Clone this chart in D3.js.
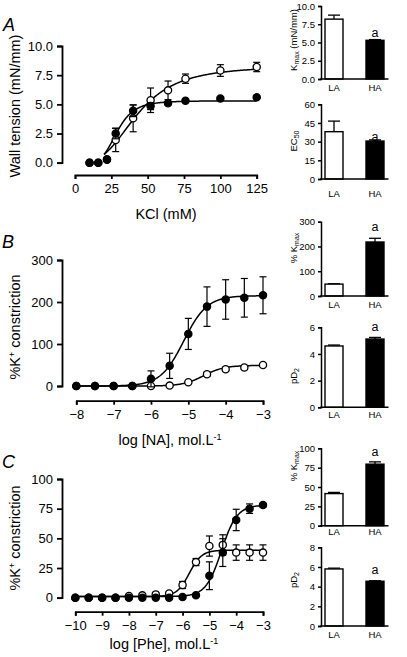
<!DOCTYPE html>
<html><head><meta charset="utf-8">
<script src="https://cdn.jsdelivr.net/npm/d3@7"></script>
<style>
body{margin:0;background:#fff}
svg{display:block}
text{font-family:"Liberation Sans",Arial,Helvetica,sans-serif;fill:#000}
</style>
</head><body>
<svg id="c" width="407" height="657"></svg>
<script>
// ---------- DATA ----------
// Panel A: KCl concentration-response (wall tension, mN/mm)
const kclConc   = [10, 16, 22, 28, 40, 52, 64, 76, 100, 125];
const kclLA     = [0, 0, 0.3, 1.95, 3.8, 5.35, 6.2, 7.2, 7.9, 8.2];
const kclLAerr  = [0.05, 0.05, 0.1, 1.0, 1.15, 1.05, 0.8, 0.4, 0.5, 0.4];
const kclHA     = [0, 0, 0.25, 2.5, 4.45, 4.85, 5.1, 5.3, 5.5, 5.6];
const kclHAerr  = [0.05, 0.05, 0.1, 0.45, 0.5, 0.3, 0.15, 0.1, 0.1, 0.1];
// fitted curve parameters [bottom, top, EC50, hill]
const kclFitLA  = [0, 8.3, 43, 3.1];
const kclFitHA  = [0, 5.3, 29, 5];
const kclTicksX = [0, 25, 50, 75, 100, 125];
const kclTicksY = [0, 2.5, 5, 7.5, 10];

// Panel B: noradrenaline (% K+ constriction)
const naLog     = [-8, -7.5, -7, -6.5, -6, -5.5, -5, -4.5, -4, -3.5, -3];
const naLA      = [0, 0, 0, 0, 0, 1, 9, 28, 40, 44, 50];
const naLAerr   = [1, 1, 1, 1, 1, 1, 2, 5, 5, 5, 3];
const naHA      = [0, 0, 0, 0, 17, 48, 124, 189, 206, 210, 216];
const naHAerr   = [1, 1, 1, 1, 19, 30, 37, 47, 47, 46, 44];
// [bottom, top, logEC50, hill]
const naFitLA   = [0, 49, -4.59, 1.58];
const naFitHA   = [0, 215, -5.12, 1.4];
const naTicksX  = [-8, -7, -6, -5, -4, -3];
const naTicksY  = [0, 100, 200, 300];

// Panel C: phenylephrine (% K+ constriction)
const pheLog    = [-10, -9.5, -9, -8.5, -8, -7.5, -7, -6.5, -6, -5.5, -5, -4.5, -4, -3.5, -3];
const pheLA     = [0, 0, 0, 0, 1.5, 2, 2.8, 3.6, 10.7, 30, 43.5, 44.5, 38, 38, 38];
const pheLAerr  = [0.5, 0.5, 0.5, 0.5, 0.5, 0.5, 0.5, 1.5, 3, 3, 8.5, 8.5, 6.5, 6.5, 6.5];
const pheHA     = [0, 0, 0, 0, 0, 0, 0, 0, 0.5, 2, 18.5, 38, 65.5, 75, 78];
const pheHAerr  = [0.5, 0.5, 0.5, 0.5, 0.5, 0.5, 0.5, 0.5, 0.5, 0.5, 11.7, 11.7, 9, 4, 1.5];
const pheFitLA  = [1, 40, -5.75, 1.87];
const pheFitHA  = [1, 78, -4.55, 1.5];
const pheTicksX = [-10, -9, -8, -7, -6, -5, -4, -3];
const pheTicksY = [0, 25, 50, 75, 100];

// Bar summaries (LA, HA)
const groups      = ["LA", "HA"];
const aKmax       = [8.2, 5.3];   const aKmaxErr  = [0.55, 0.1];
const aEC50       = [38, 30.5];   const aEC50Err  = [8.5, 0.9];
const bKmax       = [48, 218];    const bKmaxErr  = [1.5, 15];
const bPD2        = [4.6, 5.12];  const bPD2Err   = [0.07, 0.12];
const cKmax       = [41.5, 79.5]; const cKmaxErr  = [1.5, 3];
const cPD2        = [5.8, 4.55];  const cPD2Err   = [0.08, 0.05];
const aKmaxTicks  = [0, 2.5, 5, 7.5, 10];
const aEC50Ticks  = [0, 15, 30, 45, 60];
const bKmaxTicks  = [0, 100, 200, 300];
const bPD2Ticks   = [0, 2, 4, 6];
const cKmaxTicks  = [0, 25, 50, 75, 100];
const cPD2Ticks   = [0, 2, 4, 6, 8];

// ---------- DRAWING ----------
const svg = d3.select("#c");

function hillLin(p, x){ return p[0] + (p[1]-p[0]) / (1 + Math.pow(p[2]/x, p[3])); }
function hillLog(p, x){ return p[0] + (p[1]-p[0]) / (1 + Math.pow(10, (p[2]-x)*p[3])); }

function styleAxis(g, sw, fs){
  g.select(".domain").attr("stroke","#000").attr("stroke-width",sw);
  g.selectAll(".tick line").attr("stroke","#000").attr("stroke-width",sw);
  g.selectAll(".tick text").attr("font-size",fs).attr("fill","#000")
    .attr("font-family",'"Liberation Sans",Arial,sans-serif');
}

function mainPanel(o){
  const g = svg.append("g");
  const x = d3.scaleLinear().domain(o.xDomain).range(o.xRange);
  const y = d3.scaleLinear().domain(o.yDomain).range(o.yRange);
  const ya = g.append("g").attr("transform",`translate(${o.yAxisX},0)`)
    .call(d3.axisLeft(y).tickValues(o.yTicks).tickFormat(o.yFmt).tickSizeOuter(0).tickSize(5).tickPadding(4));
  styleAxis(ya, 1.8, 13);
  const xa = g.append("g").attr("transform",`translate(0,${o.xAxisY})`)
    .call(d3.axisBottom(x).tickValues(o.xTicks).tickFormat(d3.format("d")).tickSizeOuter(0).tickSize(4).tickPadding(5));
  styleAxis(xa, 1.8, 13);
  o.fits.forEach(f => {
    const xs = d3.range(o.curveDomain[0], o.curveDomain[1] + 1e-9, (o.curveDomain[1]-o.curveDomain[0])/200);
    g.append("path")
      .attr("d", d3.line().x(d => x(d)).y(d => y(f.fn(f.p, d)))(xs))
      .attr("fill","none").attr("stroke","#000").attr("stroke-width",1.5);
  });
  o.series.forEach(s => {
    const pts = s.x.map((xv,i) => ({x:xv, y:s.y[i], e:s.e[i]}));
    const eb = g.append("g").attr("stroke","#000").attr("stroke-width",1.2);
    pts.forEach(p => {
      if (p.e < 1e-9) return;
      const cx = x(p.x), y1 = y(p.y + p.e), y0 = y(p.y - p.e);
      eb.append("line").attr("x1",cx).attr("x2",cx).attr("y1",y1).attr("y2",y0);
      eb.append("line").attr("x1",cx-3.5).attr("x2",cx+3.5).attr("y1",y1).attr("y2",y1);
      eb.append("line").attr("x1",cx-3.5).attr("x2",cx+3.5).attr("y1",y0).attr("y2",y0);
    });
    g.append("g").selectAll("circle").data(pts).join("circle")
      .attr("cx", d => x(d.x)).attr("cy", d => y(d.y)).attr("r", 3.6)
      .attr("fill", s.filled ? "#000" : "#fff").attr("stroke","#000").attr("stroke-width",1.3);
  });
  const yl = g.append("text").attr("transform",`translate(${o.yLabelX},${o.yLabelY}) rotate(-90)`)
    .attr("text-anchor","middle").attr("font-size",14.5);
  o.yLabel(yl);
  const xl = g.append("text").attr("x",o.xLabelX).attr("y",o.xLabelY)
    .attr("text-anchor","middle").attr("font-size",14.5);
  o.xLabel(xl);
  g.append("text").attr("x",o.letterPos[0]).attr("y",o.letterPos[1])
    .attr("font-size",18).attr("font-style","italic").text(o.letter);
}

function barPanel(o){
  const g = svg.append("g");
  const x = d3.scaleBand().domain(groups).range([325,384]).paddingInner(0.561).paddingOuter(0);
  const y = d3.scaleLinear().domain(o.yDomain).range(o.yRange);
  const ya = g.append("g").attr("transform",`translate(321,0)`)
    .call(d3.axisLeft(y).tickValues(o.ticks).tickFormat(o.fmt).tickSizeOuter(0).tickSize(3).tickPadding(3));
  styleAxis(ya, 1.5, 9.5);
  groups.forEach((grp,i) => {
    const cx = x(grp) + x.bandwidth()/2;
    const top = y(o.vals[i] + o.errs[i]);
    g.append("line").attr("x1",cx).attr("x2",cx).attr("y1",y(o.vals[i])).attr("y2",top)
      .attr("stroke","#000").attr("stroke-width",1.3);
    g.append("line").attr("x1",cx-6).attr("x2",cx+6).attr("y1",top).attr("y2",top)
      .attr("stroke","#000").attr("stroke-width",1.3);
    g.append("rect").attr("x",x(grp)).attr("y",y(o.vals[i]))
      .attr("width",x.bandwidth()).attr("height",y(o.yDomain[0]) - y(o.vals[i]))
      .attr("fill", i===0 ? "#fff" : "#000").attr("stroke","#000").attr("stroke-width",1.4);
    g.append("text").attr("x",cx).attr("y",o.labelY).attr("text-anchor","middle")
      .attr("font-size",9.5).text(grp);
  });
  g.append("line").attr("x1",320.2).attr("x2",388.5).attr("y1",y(o.yDomain[0])).attr("y2",y(o.yDomain[0]))
    .attr("stroke","#000").attr("stroke-width",1.5);
  g.append("text").attr("x", x("HA") + x.bandwidth()/2).attr("y", o.sigY)
    .attr("text-anchor","middle").attr("font-size",12.5).text("a");
  const yl = g.append("text").attr("transform",`translate(296.5,${o.yLabelY}) rotate(-90)`)
    .attr("text-anchor","middle").attr("font-size",9.5);
  o.yLabel(yl);
}

function sup(t, base, s){ t.append("tspan").text(base[0]); t.append("tspan").attr("dy",-5).attr("font-size",9).text(s); if(base[1]) t.append("tspan").attr("dy",5).text(base[1]); }
function sub(t, base, s, rest){ t.append("tspan").text(base); t.append("tspan").attr("dy",2.5).attr("font-size",7).text(s); if(rest) t.append("tspan").attr("dy",-2.5).text(rest); }

mainPanel({
  xDomain:[0,125], xRange:[75,256.7], yDomain:[0,10], yRange:[162.7,46],
  xAxisY:175, yAxisX:62, xTicks:kclTicksX, yTicks:kclTicksY, yFmt:d3.format(".1f"),
  curveDomain:[20,125],
  fits:[{fn:hillLin,p:kclFitLA},{fn:hillLin,p:kclFitHA}],
  series:[{x:kclConc,y:kclLA,e:kclLAerr,filled:false},{x:kclConc,y:kclHA,e:kclHAerr,filled:true}],
  yLabelX:20, yLabelY:106, yLabel:t=>t.text("Wall tension (mN/mm)"),
  xLabelX:166, xLabelY:219, xLabel:t=>t.text("KCl (mM)"),
  letter:"A", letterPos:[3,31]
});
mainPanel({
  xDomain:[-8,-3], xRange:[76.3,263], yDomain:[0,300], yRange:[386,260],
  xAxisY:400.7, yAxisX:62, xTicks:naTicksX, yTicks:naTicksY, yFmt:d3.format("d"),
  curveDomain:[-8,-3],
  fits:[{fn:hillLog,p:naFitLA},{fn:hillLog,p:naFitHA}],
  series:[{x:naLog,y:naLA,e:naLAerr,filled:false},{x:naLog,y:naHA,e:naHAerr,filled:true}],
  yLabelX:20, yLabelY:327, yLabel:t=>sup(t,["%K"," constriction"],"+"),
  xLabelX:170, xLabelY:445, xLabel:t=>sup(t,["log [NA], mol.L"],"-1"),
  letter:"B", letterPos:[2,248]
});
mainPanel({
  xDomain:[-10,-3], xRange:[75.3,263], yDomain:[0,100], yRange:[597.7,479],
  xAxisY:611.7, yAxisX:62, xTicks:pheTicksX, yTicks:pheTicksY, yFmt:d3.format("d"),
  curveDomain:[-10,-3],
  fits:[{fn:hillLog,p:pheFitLA},{fn:hillLog,p:pheFitHA}],
  series:[{x:pheLog,y:pheLA,e:pheLAerr,filled:false},{x:pheLog,y:pheHA,e:pheHAerr,filled:true}],
  yLabelX:20, yLabelY:538, yLabel:t=>sup(t,["%K"," constriction"],"+"),
  xLabelX:164, xLabelY:649, xLabel:t=>sup(t,["log [Phe], mol.L"],"-1"),
  letter:"C", letterPos:[2,468]
});

barPanel({yDomain:[0,10], yRange:[79,6], ticks:aKmaxTicks, fmt:d3.format(".1f"),
  vals:aKmax, errs:aKmaxErr, labelY:91, sigY:36.5, yLabelY:40,
  yLabel:t=>sub(t,"K","max"," (mN/mm)")});
barPanel({yDomain:[0,60], yRange:[179,104.3], ticks:aEC50Ticks, fmt:d3.format("d"),
  vals:aEC50, errs:aEC50Err, labelY:196.5, sigY:140.5, yLabelY:141,
  yLabel:t=>sub(t,"EC","50")});
barPanel({yDomain:[0,300], yRange:[296,221.7], ticks:bKmaxTicks, fmt:d3.format("d"),
  vals:bKmax, errs:bKmaxErr, labelY:307.5, sigY:231, yLabelY:248,
  yLabel:t=>sub(t,"% K","max")});
barPanel({yDomain:[0,6], yRange:[407.3,327.3], ticks:bPD2Ticks, fmt:d3.format("d"),
  vals:bPD2, errs:bPD2Err, labelY:417.5, sigY:331, yLabelY:376,
  yLabel:t=>sub(t,"pD","2")});
barPanel({yDomain:[0,100], yRange:[525.7,448.3], ticks:cKmaxTicks, fmt:d3.format("d"),
  vals:cKmax, errs:cKmaxErr, labelY:535, sigY:456, yLabelY:466,
  yLabel:t=>sub(t,"% K","max")});
barPanel({yDomain:[0,8], yRange:[626,547.3], ticks:cPD2Ticks, fmt:d3.format("d"),
  vals:cPD2, errs:cPD2Err, labelY:637.5, sigY:574, yLabelY:580,
  yLabel:t=>sub(t,"pD","2")});
</script>
</body></html>
